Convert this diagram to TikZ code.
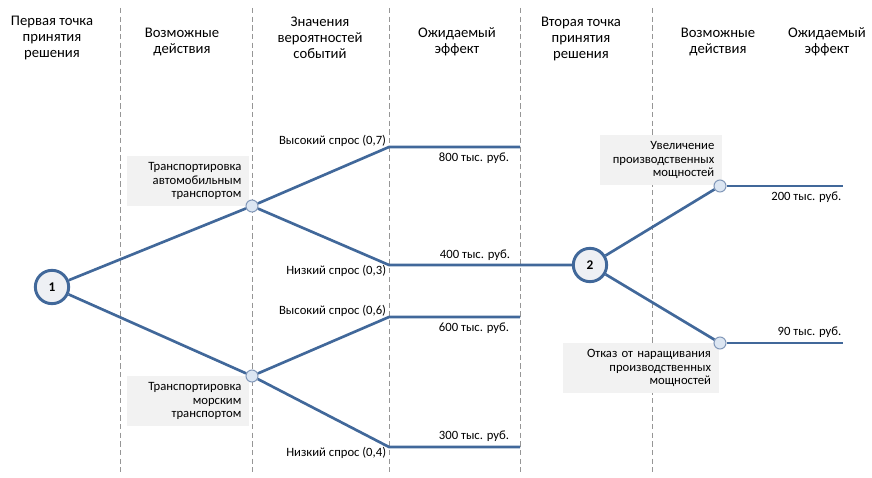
\documentclass[tikz,border=0pt]{standalone}
\usepackage{fontspec}
\setmainfont{Carlito}
\definecolor{treeblue}{RGB}{65,104,154}
\definecolor{nodefill}{RGB}{238,240,244}
\definecolor{chancefill}{RGB}{220,230,242}
\definecolor{chanceedge}{RGB}{130,152,185}
\definecolor{boxgray}{RGB}{242,242,242}
\definecolor{sepgray}{RGB}{150,150,150}
\begin{document}
\begin{tikzpicture}[x=0.75pt,y=-0.75pt,
    branch/.style={treeblue,line width=2pt},
    decision/.style={draw=treeblue,line width=2.2pt,circle,fill=nodefill,minimum size=25pt,inner sep=0pt,font=\bfseries\fontsize{10}{12}\selectfont},
    chance/.style={draw=chanceedge,line width=0.8pt,circle,fill=chancefill,minimum size=9pt,inner sep=0pt},
    head/.style={align=center,font=\fontsize{11}{12.2}\selectfont},
    lbl/.style={fill=boxgray,align=right,inner xsep=6pt,inner ysep=3pt,minimum height=37pt,font=\fontsize{9.5}{10.4}\selectfont},
    small/.style={inner sep=2pt,font=\fontsize{9.5}{10.5}\selectfont}]
        \useasboundingbox (0,0) rectangle (872,478);
        %draw column separators
        \foreach \x in {120,252,389,520,652}{
            \draw[sepgray,dashed,line width=0.5pt,dash pattern=on 4pt off 2.5pt] (\x,8) -- (\x,472);
        }
        %column headings
        \node[head] (h1) at (52,38) {Первая точка\\принятия\\решения};
        \node[head] (h2) at (182,42) {Возможные\\действия};
        \node[head] (h3) at (320,38) {Значения\\вероятностей\\событий};
        \node[head] (h4) at (457,42) {Ожидаемый\\эффект};
        \node[head] (h5) at (581,39) {Вторая точка\\принятия\\решения};
        \node[head] (h6) at (718,42) {Возможные\\действия};
        \node[head] (h7) at (827,42) {Ожидаемый\\эффект};
        %action labels
        \node[lbl,text width=80pt] (txAuto) at (188,181) {Транспортировка\\автомобильным\\транспортом};
        \node[lbl,text width=80pt] (txSea) at (188,401) {Транспортировка\\морским\\транспортом};
        \node[lbl,text width=80pt] (txMore) at (661,160) {Увеличение\\производственных\\мощностей};
        \node[lbl,text width=105pt] (txKeep) at (641,368) {Отказ от наращивания\\производственных\\мощностей};
        %turning points
        \coordinate (hiA) at (389,147);
        \coordinate (loA) at (389,265);
        \coordinate (hiS) at (389,317);
        \coordinate (loS) at (389,447);
        \coordinate (endHiA) at (520,147);
        \coordinate (endHiS) at (520,317);
        \coordinate (endLoS) at (520,447);
        \coordinate (endMore) at (843,186);
        \coordinate (endKeep) at (843,343);
        %draw nodes
        \node[decision] (n1) at (52,287) {1};
        \node[decision] (n2) at (590,265) {2};
        \node[chance] (cAuto) at (252,206) {};
        \node[chance] (cSea) at (252,376) {};
        \node[chance] (cMore) at (720,186) {};
        \node[chance] (cKeep) at (720,343) {};
        %draw branches
        \draw[branch] (n1) -- (cAuto);
        \draw[branch] (n1) -- (cSea);
        \draw[branch] (cAuto) -- (hiA) -- (endHiA);
        \draw[branch] (cAuto) -- (loA) -- (n2);
        \draw[branch] (cSea) -- (hiS) -- (endHiS);
        \draw[branch] (cSea) -- (loS) -- (endLoS);
        \draw[branch] (n2) -- (cMore);
        \draw[branch] (n2) -- (cKeep);
        \draw[branch] (cMore) -- (endMore);
        \draw[branch] (cKeep) -- (endKeep);
        %probabilities
        \node[small,anchor=south east] (pHiA) at ([yshift=-2pt]hiA) {Высокий спрос (0,7)};
        \node[small,anchor=north east] (pLoA) at ([yshift=2pt]loA) {Низкий спрос (0,3)};
        \node[small,anchor=south east] (pHiS) at ([yshift=-2pt]hiS) {Высокий спрос (0,6)};
        \node[small,anchor=north east] (pLoS) at ([yshift=2pt]loS) {Низкий спрос (0,4)};
        %expected effects
        \node[small,anchor=north east] (vHiA) at ([xshift=-6pt,yshift=-2pt]endHiA) {800 тыс. руб.};
        \node[small,anchor=south east] (vLoA) at (513,263) {400 тыс. руб.};
        \node[small,anchor=north east] (vHiS) at ([xshift=-6pt,yshift=-2pt]endHiS) {600 тыс. руб.};
        \node[small,anchor=south east] (vLoS) at ([xshift=-6pt,yshift=2pt]endLoS) {300 тыс. руб.};
        \node[small,anchor=north east] (vMore) at ([xshift=1pt,yshift=-2pt]endMore) {200 тыс. руб.};
        \node[small,anchor=south east] (vKeep) at ([xshift=1pt,yshift=2pt]endKeep) {90 тыс. руб.};
\end{tikzpicture}
\end{document}
